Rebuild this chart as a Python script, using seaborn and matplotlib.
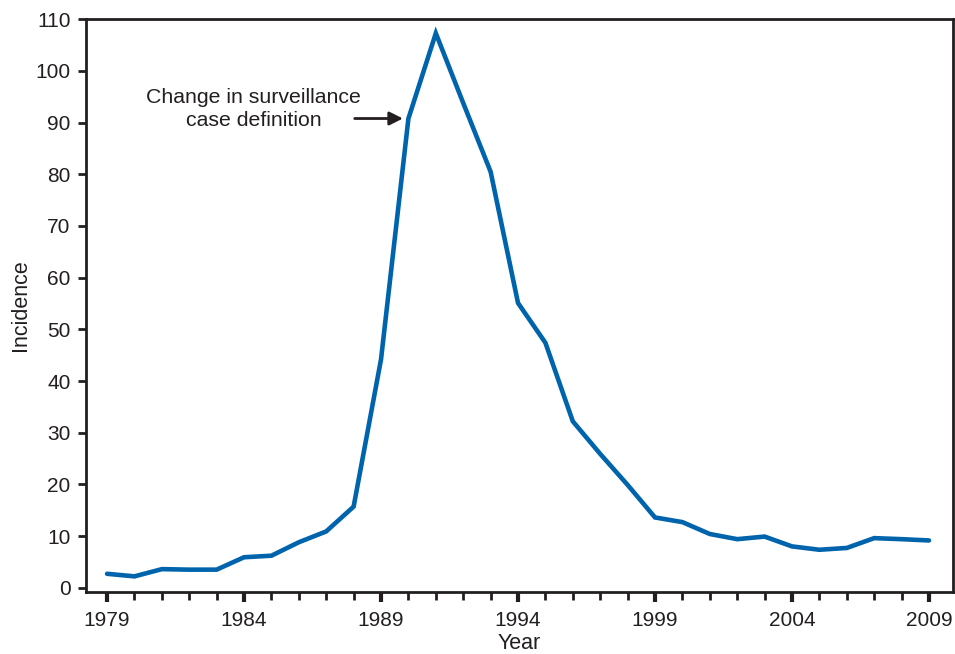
import numpy as np
import pandas as pd
import seaborn as sns
import matplotlib.pyplot as plt
from matplotlib.ticker import MultipleLocator

# Incidence per year
years = list(range(1979, 2010))
incidence = [2.7, 2.2, 3.6, 3.5, 3.5, 5.9, 6.2, 8.8, 10.9, 15.7,
             44.2, 90.8, 107.3, 93.8, 80.5, 55.1, 47.4, 32.2, 25.9, 19.9,
             13.6, 12.7, 10.4, 9.4, 9.9, 8.0, 7.35, 7.7, 9.6, 9.4, 9.15]
labelled_years = [1979, 1984, 1989, 1994, 1999, 2004, 2009]
y_ticks = list(range(0, 111, 10))

df = pd.DataFrame({'Year': years, 'Incidence': incidence})

sns.set_style('ticks')
plt.rcParams['font.family'] = ['Liberation Sans', 'DejaVu Sans']
ink = '#231f20'

fig = plt.figure(figsize=(9.55, 6.54), dpi=100)
ax = fig.add_axes([0.090, 0.095, 0.908, 0.8755])

sns.lineplot(data=df, x='Year', y='Incidence', color='#0064ad', linewidth=3.3,
             ax=ax, solid_joinstyle='miter')

ax.set_xlim(1978.23, 2009.88)
ax.set_ylim(-0.8, 110)
ax.set_xticks(labelled_years)
ax.xaxis.set_minor_locator(MultipleLocator(1))
ax.set_yticks(y_ticks)

for side in ['left', 'right', 'top', 'bottom']:
    ax.spines[side].set_linewidth(2.0)
    ax.spines[side].set_color(ink)

ax.tick_params(axis='x', which='major', length=7, width=3, color=ink,
               labelsize=15, labelcolor=ink, pad=7)
ax.tick_params(axis='x', which='minor', length=6, width=2, color=ink)
ax.tick_params(axis='y', length=6, width=2, color=ink, labelsize=15,
               labelcolor=ink, pad=5)

ax.set_xlabel('Year', fontsize=15.5, color=ink, labelpad=2)
ax.set_ylabel('Incidence', fontsize=15.5, color=ink, labelpad=3)

ax.text(1984.36, 92.6, 'Change in surveillance\ncase definition', ha='center',
        va='center', fontsize=15.3, color=ink, linespacing=1.3)
ax.annotate('', xy=(1989.8, 90.8), xytext=(1988.04, 90.8),
            arrowprops=dict(arrowstyle='-|>', color=ink, lw=2.0,
                            mutation_scale=20, shrinkA=0, shrinkB=0))

fig.savefig('out.png', dpi=100)
